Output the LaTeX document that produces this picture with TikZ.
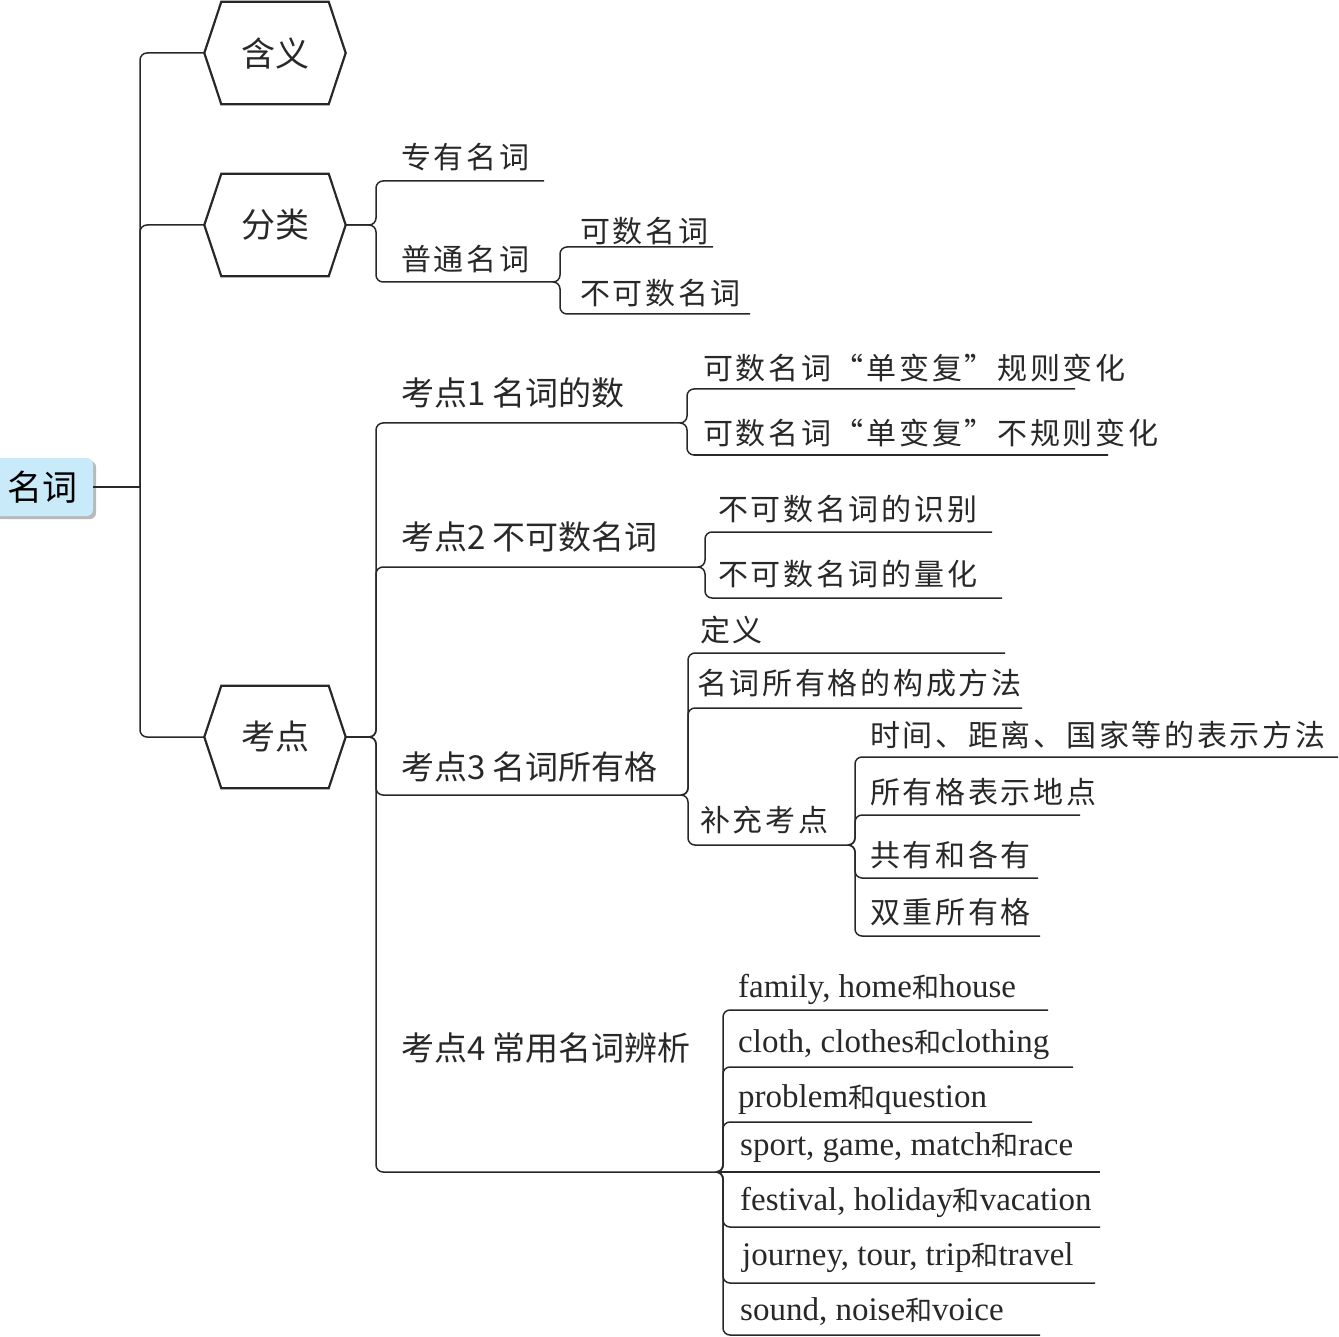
\documentclass[tikz,border=0pt]{standalone}
\usepackage{fontspec}
\setmainfont{Liberation Serif}
\newfontfamily\cjk{Noto Sans CJK SC}
\newfontfamily\cjkwide[LetterSpace=9]{Noto Sans CJK SC}
\usetikzlibrary{calc,shadows}
\definecolor{rootblue}{RGB}{200,234,249}
\definecolor{shadegray}{RGB}{185,185,185}
\definecolor{ink}{RGB}{40,40,40}
\newcommand{\hezi}{{\cjk\fontsize{27}{27}\selectfont 和}}
% connector from a parent point to a child's underline
\newcommand{\twig}[5]{%
  \coordinate (#2-s) at (#3,#4);
  \coordinate (#2-e) at (#5,#4);
  \draw[link] (#1) -| (#2-s) -- (#2-e);}
\newcommand{\hexframe}[1]{%
  \draw[hexline] (#1.west) -- ([xshift=17pt]#1.north west) -- ([xshift=-17pt]#1.north east)
    -- (#1.east) -- ([xshift=-17pt]#1.south east) -- ([xshift=17pt]#1.south west) -- cycle;}
\tikzset{
  link/.style={draw=ink, line width=1.5pt, rounded corners=7pt},
  hexline/.style={draw=ink, line width=2.2pt},
  hexa/.style={minimum width=141pt, minimum height=102pt, inner sep=0pt, text=ink, font=\cjk\fontsize{34}{34}\selectfont},
  rootbox/.style={fill=rootblue, rounded corners=6pt, minimum width=101pt, minimum height=58pt, inner sep=0pt,
    font=\cjk\fontsize{35}{35}\selectfont, drop shadow={shadow xshift=3pt, shadow yshift=-3pt, fill=shadegray, opacity=1}},
  topic/.style={anchor=west, inner sep=0pt, text=ink, font=\cjk\fontsize{33}{33}\selectfont},
  sub/.style={anchor=west, inner sep=0pt, text=ink, font=\cjkwide\fontsize{30}{30}\selectfont},
  eng/.style={anchor=base west, inner sep=0pt, text=ink, font=\fontsize{33}{33}\selectfont},
}
\begin{document}
\begin{tikzpicture}[x=1pt,y=-1pt]
\useasboundingbox (0,0) rectangle (1339,1337);
% root and hexagons
\node[rootbox] (root) at (42.5,487) {名词};
\node[hexa] (H1) at (275,53) {含义};
\node[hexa] (H2) at (275,225) {分类};
\node[hexa] (H3) at (275,737) {考点};
\hexframe{H1} \hexframe{H2} \hexframe{H3}
\coordinate (trunk) at (140,487);
\draw[link] (root.east) -- (trunk);
\draw[link] (H1.west) -| (trunk) |- (H3.west);
\draw[link] (trunk) |- (H2.west);
% fenlei
\twig{H2.east}{zy}{376}{181}{544}
\twig{H2.east}{pt}{376}{282}{554}
\node[sub] (zy) at (401,157) {专有名词};
\node[sub] (pt) at (401,259) {普通名词};
\twig{pt-e}{ks}{560}{247}{713}
\twig{pt-e}{bks}{560}{314}{750}
\node[sub] (ks) at (580,231) {可数名词};
\node[sub] (bks) at (580,293) {不可数名词};
% kaodian
\twig{H3.east}{k1}{376}{423}{681}
\twig{H3.east}{k2}{376}{567}{699}
\twig{H3.east}{k3}{376}{795}{682}
\twig{H3.east}{k4}{376}{1172}{717}
\node[topic] (k1) at (401,393) {考点1 名词的数};
\node[topic] (k2) at (401,537) {考点2 不可数名词};
\node[topic] (k3) at (401,767) {考点3 名词所有格};
\node[topic] (k4) at (401,1048) {考点4 常用名词辨析};
% kaodian 1
\twig{k1-e}{k11}{687}{389}{1075}
\twig{k1-e}{k12}{687}{455}{1108}
\node[sub] (k11) at (703,368) {可数名词“单变复”规则变化};
\node[sub] (k12) at (703,433) {可数名词“单变复”不规则变化};
% kaodian 2
\twig{k2-e}{k21}{705}{532}{992}
\twig{k2-e}{k22}{705}{598}{1002}
\node[sub] (k21) at (718,509) {不可数名词的识别};
\node[sub] (k22) at (718,574) {不可数名词的量化};
% kaodian 3
\twig{k3-e}{k31}{688}{653}{1005}
\twig{k3-e}{k32}{688}{708}{1022}
\twig{k3-e}{k33}{688}{845}{849}
\node[sub] (k31) at (700,630) {定义};
\node[sub] (k32) at (697,683) {名词所有格的构成方法};
\node[sub] (k33) at (700,820) {补充考点};
\twig{k33-e}{b1}{855}{757}{1338}
\twig{k33-e}{b2}{855}{815}{1080}
\twig{k33-e}{b3}{855}{878}{1038}
\twig{k33-e}{b4}{855}{936}{1040}
\node[sub] (b1) at (870,735) {时间、距离、国家等的表示方法};
\node[sub] (b2) at (870,792) {所有格表示地点};
\node[sub] (b3) at (870,855) {共有和各有};
\node[sub] (b4) at (870,912) {双重所有格};
% kaodian 4
\twig{k4-e}{c1}{723}{1010}{1048}
\twig{k4-e}{c2}{723}{1067}{1073}
\twig{k4-e}{c3}{723}{1122}{1032}
\coordinate (c4-e) at (1100,1172);
\draw[link] (k4-e) -- (c4-e);
\twig{k4-e}{c5}{723}{1227}{1100}
\twig{k4-e}{c6}{723}{1283}{1095}
\twig{k4-e}{c7}{723}{1335}{1040}
\node[eng] (c1) at (738,997) {family, home\hezi house};
\node[eng] (c2) at (738,1052) {cloth, clothes\hezi clothing};
\node[eng] (c3) at (738,1107) {problem\hezi question};
\node[eng] (c4) at (740,1155) {sport, game, match\hezi race};
\node[eng] (c5) at (740,1210) {festival, holiday\hezi vacation};
\node[eng] (c6) at (742,1265) {journey, tour, trip\hezi travel};
\node[eng] (c7) at (740,1320) {sound, noise\hezi voice};
\end{tikzpicture}
\end{document}
